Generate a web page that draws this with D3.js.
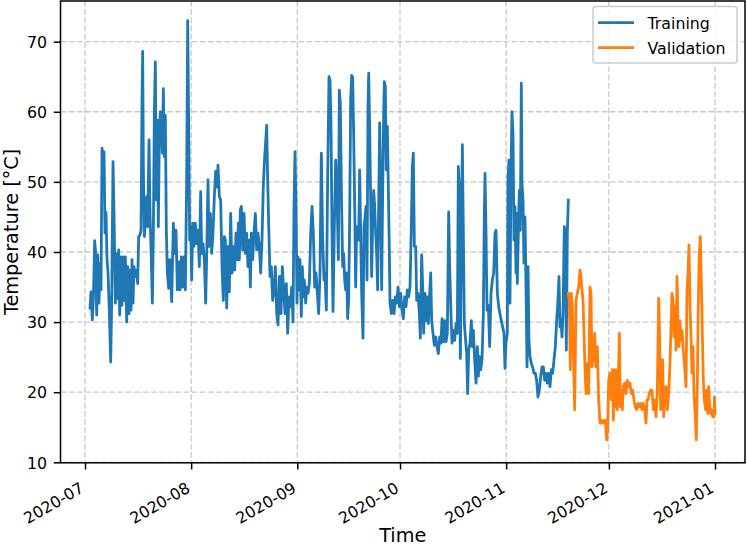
<!DOCTYPE html>
<html>
<head>
<meta charset="utf-8">
<script src="https://cdn.jsdelivr.net/npm/d3@7"></script>
<style>
  html, body { margin: 0; padding: 0; background: #fff; }
  svg { display: block; }
  text { font-family: "DejaVu Sans", sans-serif; fill: #000; }
</style>
</head>
<body>
<svg id="chart" width="747" height="547"></svg>
<script>
// ---- data (time in days since 2020-07-01 00:00 UTC, temperature in °C) ----
const trainDays = [
  1.46,1.75,2.14,2.43,2.82,3.12,3.41,3.70,4.09,4.38,4.67,4.97,5.26,5.55,5.84,6.13,6.43,6.72,7.11,7.50,
  7.79,8.18,8.47,8.86,9.25,9.54,9.83,10.13,10.52,10.81,11.20,11.49,11.78,12.17,12.46,12.85,13.14,13.44,13.73,14.02,
  14.31,14.70,15.09,15.38,15.67,16.06,16.36,16.65,16.84,17.04,17.33,17.72,18.01,18.30,18.69,18.98,19.37,19.67,19.96,20.25,
  20.54,20.83,21.13,21.42,21.71,22.00,22.29,22.58,22.88,23.17,23.46,23.75,24.05,24.44,24.73,
  24.83,25.31,25.80,26.19,26.58,26.97,27.36,27.75,28.14,28.52,28.91,29.30,29.69,29.99,30.28,30.57,30.86,31.15,31.45,31.83,
  32.22,32.61,33.00,33.39,33.78,34.07,34.46,34.85,35.24,35.63,35.92,36.22,36.60,36.99,37.38,37.77,38.16,38.55,38.84,39.23,
  39.62,40.01,40.40,40.69,40.99,41.38,41.76,42.15,42.54,42.93,43.32,43.71,44.10,44.49,44.78,45.07,45.37,45.66,46.05,46.44,
  46.83,47.22,47.60,47.99,48.29,48.58,48.97,49.36,49.75,50.14,50.53,50.92,51.30,51.69,52.08,52.47,52.77,53.06,53.35,53.64,
  54.03,54.42,54.81,55.20,55.59,55.98,56.37,56.76,
  56.95,57.24,57.63,58.02,58.41,58.80,59.19,59.58,59.97,60.36,60.75,61.04,61.33,61.62,61.91,62.21,62.50,62.79,63.18,63.47,
  63.76,64.06,64.45,64.74,65.13,65.52,65.91,66.30,66.69,67.07,67.46,67.85,68.24,68.63,69.02,69.41,69.80,70.09,70.48,70.87,
  71.26,71.55,71.84,72.14,72.43,72.82,73.21,73.60,73.99,74.28,74.57,74.86,75.25,75.54,75.84,76.13,76.42,76.71,77.00,77.30,
  77.59,77.88,78.17,78.46,78.76,79.05,79.34,79.63,79.93,80.22,80.51,80.80,81.19,81.48,81.78,82.07,82.36,82.65,82.85,83.14,
  83.43,83.72,84.01,84.31,84.60,84.89,85.18,85.47,85.77,86.06,86.35,86.64,86.93,87.23,87.42,87.71,88.00,88.30,88.59,88.88,
  89.08,89.47,89.86,90.25,90.64,91.03,91.42,91.81,92.20,92.58,92.97,93.36,93.75,94.14,94.53,94.92,95.31,95.60,95.89,96.19,
  96.58,96.87,97.26,97.65,97.94,98.33,98.62,98.91,99.30,99.59,99.98,100.28,100.57,100.96,101.25,101.64,102.03,102.42,102.81,103.20,
  103.59,103.97,104.27,104.66,105.05,105.44,105.82,106.21,106.51,106.90,107.19,107.58,107.97,108.36,108.74,109.04,109.33,109.62,109.91,110.21,
  110.50,110.79,111.08,111.47,111.76,112.06,112.44,112.83,113.13,113.42,113.81,114.20,114.59,114.88,115.17,115.56,115.95,116.34,116.63,116.83,
  117.12,117.41,117.80,118.19,118.58,118.97,119.36,119.75,120.04,120.43,120.82,
  121.20,121.59,121.98,122.37,122.66,122.95,123.34,123.54,123.83,124.12,124.41,124.70,125.00,125.29,125.58,125.87,126.07,126.26,126.55,126.85,
  127.14,127.43,127.63,127.92,128.21,128.50,128.79,129.09,129.38,129.67,129.96,130.35,130.74,131.13,131.52,131.91,132.30,132.69,133.08,133.47,
  133.86,134.25,134.63,135.02,135.41,135.80,136.19,136.58,136.97,137.36,137.75,138.14,138.43,138.72,139.02,139.31,139.60,139.99,140.28,140.57,
  140.87,141.16
];
const trainTemp = [
  32.0,34.3,30.3,33.1,41.6,39.8,31.0,39.6,32.7,38.4,34.6,54.8,51.2,54.3,42.7,45.7,38.9,37.0,31.2,24.3,
  33.1,52.9,45.5,32.7,39.8,33.4,40.3,31.0,39.3,32.4,39.3,33.1,39.3,30.0,37.9,31.2,37.4,31.7,38.9,32.7,
  37.9,36.5,37.4,35.5,42.2,42.4,43.1,61.7,68.6,52.2,42.2,45.0,47.9,43.6,56.0,45.5,38.9,32.7,42.7,59.8,
  67.1,47.4,58.8,43.6,56.9,60.0,59.5,54.1,63.3,53.6,59.5,43.1,37.0,34.8,38.9,
  38.9,32.9,44.1,39.8,43.1,34.6,38.6,34.6,39.3,35.0,39.3,34.6,50.3,73.0,57.9,41.7,43.6,36.0,44.1,40.8,
  44.1,41.2,43.1,37.9,48.6,39.8,41.2,38.9,32.7,41.7,50.3,40.8,45.5,39.8,42.7,47.9,51.5,49.3,52.4,47.9,
  47.4,37.9,33.1,42.2,41.7,32.0,40.8,34.3,45.5,37.0,40.8,37.4,42.7,38.9,44.1,38.9,46.0,46.5,40.3,45.5,
  39.8,42.7,37.9,41.7,35.0,42.7,38.9,42.7,45.5,40.3,42.7,40.8,37.0,41.7,49.5,53.6,55.7,58.1,50.3,44.1,
  36.5,37.9,33.1,34.6,37.9,31.2,29.6,36.5,
  36.5,31.2,37.9,34.6,31.2,35.5,28.4,33.6,32.2,35.0,30.0,46.5,54.3,46.5,32.7,39.3,34.6,38.9,30.8,37.9,
  33.6,36.0,32.7,35.0,34.1,35.5,42.7,46.5,42.7,35.0,37.0,34.1,31.2,37.0,54.1,41.7,36.0,37.0,31.7,50.7,
  65.0,64.5,58.4,42.7,31.5,43.6,53.1,48.4,38.9,63.1,61.2,49.3,37.9,39.8,36.0,34.6,37.0,30.5,33.1,45.0,
  61.7,65.2,64.9,56.9,46.9,35.0,43.6,42.7,41.7,51.7,42.7,34.1,27.7,43.6,45.0,46.5,36.0,60.7,65.5,57.9,
  47.4,36.5,44.1,48.8,46.5,42.7,39.8,34.6,46.5,58.4,49.3,34.6,48.4,59.8,64.3,63.6,51.7,57.9,49.3,40.3,
  32.7,31.2,33.1,31.2,33.6,32.7,35.0,32.2,34.1,31.7,30.5,33.6,32.2,34.6,33.6,35.0,43.6,52.2,54.1,40.8,
  40.8,33.1,34.1,31.2,27.7,39.6,35.0,28.4,34.1,30.2,33.6,29.8,33.1,37.0,30.2,28.4,26.7,27.9,26.5,25.5,
  27.9,27.0,30.5,27.2,30.2,27.2,28.4,45.7,37.9,30.8,27.0,28.8,27.4,29.8,28.4,52.2,49.3,24.8,39.8,55.3,
  42.7,29.8,27.9,25.5,19.8,26.0,27.0,30.2,26.5,28.8,24.6,21.3,26.5,22.3,25.1,23.2,24.6,31.2,45.5,51.2,
  42.7,31.7,32.4,26.5,34.1,36.0,37.0,42.7,43.1,34.1,32.2,
  31.2,30.2,29.3,28.4,23.4,27.0,28.4,50.3,53.1,32.7,51.2,60.0,56.9,41.7,46.5,37.0,45.5,35.5,42.7,48.8,
  43.1,64.1,49.8,47.4,38.4,45.0,35.5,23.6,37.9,27.4,25.1,24.1,23.6,22.7,22.7,21.7,19.3,20.3,22.2,23.6,
  23.6,21.7,22.7,21.3,22.7,20.8,23.2,22.7,24.6,26.5,30.2,33.1,36.5,29.3,30.2,27.9,31.2,43.6,43.1,26.0,
  42.7,47.4
];
const valDays = [
  141.16,141.45,141.74,142.03,142.33,142.62,143.01,143.40,143.79,144.17,144.56,144.86,145.15,145.44,145.73,146.02,146.32,146.71,147.10,147.49,
  147.78,148.07,148.46,148.85,149.24,149.63,150.02,150.41,150.80,151.18,151.57,151.96,152.35,152.64,152.94,
  153.33,153.72,154.01,154.30,154.60,154.89,155.18,155.47,155.76,156.06,156.35,156.64,156.93,157.22,157.61,158.00,158.39,158.78,159.17,159.56,
  159.95,160.34,160.73,161.12,161.51,161.90,162.29,162.68,163.06,163.45,163.84,164.14,164.43,164.82,165.21,165.60,165.99,166.38,166.76,167.15,
  167.54,167.84,168.13,168.42,168.71,169.00,169.30,169.69,170.07,170.46,170.85,171.15,171.44,171.73,172.02,172.31,172.61,172.90,173.19,173.48,
  173.77,174.07,174.36,174.75,175.14,175.53,175.82,176.11,176.40,176.70,176.99,177.28,177.57,177.86,178.25,178.54,178.84,179.13,179.42,179.71,
  180.00,180.30,180.59,180.88,181.27,181.56,181.85,182.15,182.54,182.93,183.31,183.70,183.85,184.00
];
const valTemp = [
  34.1,33.1,23.2,34.1,32.2,26.0,17.5,33.1,34.1,35.0,37.4,36.5,34.6,33.1,28.4,23.6,19.8,24.1,19.8,35.0,
  34.1,23.6,24.6,28.4,23.6,26.5,18.9,15.6,15.6,16.0,15.6,16.0,13.2,14.6,21.7,
  22.7,18.9,23.2,16.0,23.2,17.9,23.2,17.5,21.3,28.4,17.9,20.3,17.5,20.8,21.3,19.8,21.7,20.8,21.3,19.8,
  20.3,18.9,17.9,17.5,18.4,17.9,18.4,17.5,18.4,17.5,15.6,18.9,18.9,19.8,20.3,20.3,17.5,18.9,16.5,19.8,
  33.4,27.9,17.5,19.3,24.6,16.5,19.8,20.8,17.5,19.8,24.1,29.3,34.1,33.1,27.9,32.2,26.0,36.5,30.0,26.5,
  30.2,27.4,28.8,26.0,23.6,20.8,34.6,37.0,41.0,32.2,27.9,22.7,26.5,19.8,16.5,13.2,21.3,33.1,39.8,42.2,
  36.0,28.4,21.7,18.9,17.5,20.3,17.0,20.8,17.0,17.5,16.5,16.5,19.3,17.0
];
const xTickLabels = ["2020-07","2020-08","2020-09","2020-10","2020-11","2020-12","2021-01"];
const yTicks = [10,20,30,40,50,60,70];
const seriesNames = ["Training","Validation"];
const seriesColors = ["#1f77b4","#ff7f0e"];

// ---- helpers ----
const DAY = 864e5;
const T0 = Date.UTC(2020,6,1);
const toDate = d => new Date(T0 + d*DAY);
const parseMonth = d3.utcParse("%Y-%m");

// ---- layout ----
const L = 60.5, R = 745, T = 1, B = 462.8;
const svg = d3.select("#chart");

const x = d3.scaleUtc().domain([toDate(-7.16), toDate(192.76)]).range([L, R]);
const y = d3.scaleLinear().domain([9.93, 75.8]).range([B, T]);

const xTickDates = xTickLabels.map(parseMonth);

// grid
const grid = svg.append("g").attr("stroke","#b0b0b0").attr("stroke-opacity",0.7)
  .attr("stroke-width",1.3).attr("stroke-dasharray","5.7,2.5");
grid.selectAll("line.gx").data(xTickDates).join("line")
  .attr("x1", d => x(d)).attr("x2", d => x(d)).attr("y1", T).attr("y2", B);
grid.selectAll("line.gy").data(yTicks).join("line")
  .attr("x1", L).attr("x2", R).attr("y1", d => y(d)).attr("y2", d => y(d));

// lines
const line = d3.line().x(d => x(d[0])).y(d => y(d[1]));
const trainData = trainDays.map((d,i) => [toDate(d), trainTemp[i]]);
const valData = valDays.map((d,i) => [toDate(d), valTemp[i]]);
[trainData, valData].forEach((data, i) => {
  svg.append("path").datum(data)
    .attr("d", line).attr("fill","none")
    .attr("stroke", seriesColors[i]).attr("stroke-width", 2.8)
    .attr("stroke-linejoin","round").attr("stroke-linecap","square");
});

// axes
const TICK = 6.7, PAD = 6.7, TICKFONT = "15.8px";
const xAxis = d3.axisBottom(x).tickValues(xTickDates).tickFormat(d3.utcFormat("%Y-%m"))
  .tickSize(TICK).tickPadding(PAD).tickSizeOuter(0);
const gx = svg.append("g").attr("transform", `translate(0,${B})`).call(xAxis);
gx.select(".domain").remove();
gx.selectAll(".tick line").attr("stroke","#000").attr("stroke-width",1.5);
gx.selectAll(".tick text")
  .attr("font-size",TICKFONT).attr("font-family","DejaVu Sans")
  .attr("text-anchor","end")
  .attr("y", null).attr("dy", null)
  .attr("transform", "translate(-0.5,28.5) rotate(-30)");

const yAxis = d3.axisLeft(y).tickValues(yTicks).tickSize(TICK).tickPadding(PAD).tickSizeOuter(0);
const gy = svg.append("g").attr("transform", `translate(${L},0)`).call(yAxis);
gy.select(".domain").remove();
gy.selectAll(".tick line").attr("stroke","#000").attr("stroke-width",1.5);
gy.selectAll(".tick text").attr("font-size",TICKFONT).attr("font-family","DejaVu Sans").attr("dy","0.36em");

// frame (spines)
svg.append("rect").attr("x", L).attr("y", T).attr("width", R-L).attr("height", B-T)
  .attr("fill","none").attr("stroke","#000").attr("stroke-width",1.5);

// axis labels
svg.append("text").attr("x", (L+R)/2).attr("y", 542.2).attr("text-anchor","middle")
  .attr("font-size","19.3px").text("Time");
svg.append("text").attr("transform", `translate(18.3,${(T+B)/2}) rotate(-90)`)
  .attr("text-anchor","middle").attr("font-size","19.3px").text("Temperature [°C]");

// legend
const lg = svg.append("g");
lg.append("rect").attr("x",593).attr("y",6.5).attr("width",144).attr("height",56.5).attr("rx",3)
  .attr("fill","#fff").attr("fill-opacity",0.8).attr("stroke","#cccccc").attr("stroke-width",1.5);
seriesNames.forEach((name, i) => {
  const cy = 22.7 + i*25;
  lg.append("line").attr("x1",598).attr("x2",634).attr("y1",cy).attr("y2",cy)
    .attr("stroke", seriesColors[i]).attr("stroke-width",2.8);
  lg.append("text").attr("x",647.5).attr("y",cy+5.8).attr("font-size","15.8px").text(name);
});
</script>
</body>
</html>
